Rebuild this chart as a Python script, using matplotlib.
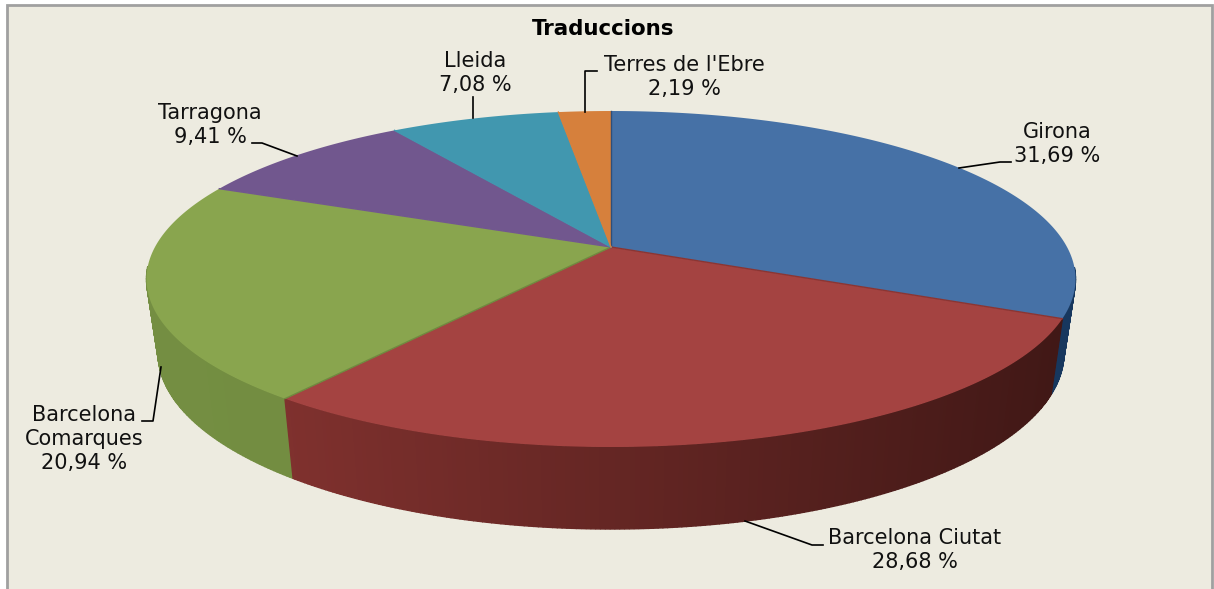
import numpy as np
import matplotlib.pyplot as plt
from matplotlib.colors import to_rgb
from matplotlib.patches import Rectangle

labels = ['Girona', 'Barcelona Ciutat', 'Barcelona Comarques', 'Tarragona', 'Lleida', "Terres de l'Ebre"]
values = [31.69, 28.68, 20.94, 9.41, 7.08, 2.19]
top_colors = ['#4671A6', '#A44341', '#89A54E', '#71578E', '#4197AF', '#D6803C']
edge_colors = ['#2F4F7A', '#8A3533', '#6F8A3F', '#71578E', '#4197AF', '#D6803C']
# side colour at the left / right end of the pie
side_left = ['#17375E', '#8A3532', '#748E42', '#4B3A5F', '#2B6474', '#8E5528']
side_right = ['#17375E', '#411816', '#6C883A', '#4B3A5F', '#2B6474', '#8E5528']

cx, cy = 611, 247
rx, ry = 456, 161.9
k = 0.1905  # perspective
bg = '#EDEBE0'


def top_ring(theta):
    # theta clockwise from top, degrees
    t = np.radians(theta)
    u, v = np.sin(t), np.cos(t)
    d = 1 + k * v
    return cx + rx * u / d, cy - ry * v / d


def bottom_ring(theta):
    x, y = top_ring(theta)
    return cx + (x - cx) * 0.975, cy + (y - cy) * 1.047 + 72.6


fig, ax = plt.subplots(figsize=(12.14, 5.89), dpi=100)
fig.patch.set_facecolor('white')
ax.set_position([0, 0, 1, 1])
ax.set_xlim(0, 1214)
ax.set_ylim(589, 0)
ax.axis('off')
ax.add_patch(Rectangle((7, 5), 1205, 600, facecolor=bg, edgecolor='#A0A0A0', lw=2))

edges = np.concatenate([[0], np.cumsum(values)]) / sum(values) * 360

# side wall, only the front part shows, back strips first
strips = []
for i in range(len(values)):
    for a in np.arange(edges[i], edges[i + 1], 0.5):
        if np.cos(np.radians(a)) < -0.12:
            strips.append((a, min(a + 0.5, edges[i + 1]), i))
strips.sort(key=lambda s: top_ring(s[0])[1])
for a0, a1, i in strips:
    x0, y0 = top_ring(a0)
    x1, y1 = top_ring(a1)
    x2, y2 = bottom_ring(a1)
    x3, y3 = bottom_ring(a0)
    f = np.clip((x0 - 150) / (1060 - 150), 0, 1)
    c0 = np.array(to_rgb(side_left[i]))
    c1 = np.array(to_rgb(side_right[i]))
    col = c0 + (c1 - c0) * f
    ax.fill([x0, x1, x2, x3], [y0, y1, y2, y3], color=col, lw=1.0)

# top face
for i in range(len(values)):
    th = np.linspace(edges[i], edges[i + 1], 200)
    xs, ys = top_ring(th)
    ax.fill(np.r_[cx, xs], np.r_[cy, ys], facecolor=top_colors[i], edgecolor='none')
for i in range(len(values)):
    x, y = top_ring(edges[i])
    ax.plot([cx, x], [cy, y], color=edge_colors[i], lw=1)

# leader lines
leaders = [
    ([959, 1000, 1011], [168, 162, 162]),
    ([745, 812, 823], [521, 545, 545]),
    ([161, 153, 142], [367, 421, 421]),
    ([297, 262, 252], [156, 143, 143]),
    ([473, 473], [118, 97]),
    ([585, 585, 597], [112, 71, 71]),
]
for lx, ly in leaders:
    ax.plot(lx, ly, color='black', lw=1.2)

fs = 15
ls = 1.26
ax.text(603, 29, 'Traduccions', ha='center', va='center', fontsize=15.4, fontweight='bold', color='black')
ax.text(1057, 144, 'Girona\n31,69 %', ha='center', va='center', fontsize=fs, color='#111111', linespacing=ls)
ax.text(915, 550, 'Barcelona Ciutat\n28,68 %', ha='center', va='center', fontsize=fs, color='#111111', linespacing=ls)
ax.text(84, 439, 'Barcelona\nComarques\n20,94 %', ha='center', va='center', fontsize=fs, color='#111111', linespacing=ls)
ax.text(210, 125, 'Tarragona\n9,41 %', ha='center', va='center', fontsize=fs, color='#111111', linespacing=ls)
ax.text(475, 73, 'Lleida\n7,08 %', ha='center', va='center', fontsize=fs, color='#111111', linespacing=ls)
ax.text(684, 77, "Terres de l'Ebre\n2,19 %", ha='center', va='center', fontsize=fs, color='#111111', linespacing=ls)

fig.savefig('out.png', dpi=100)
